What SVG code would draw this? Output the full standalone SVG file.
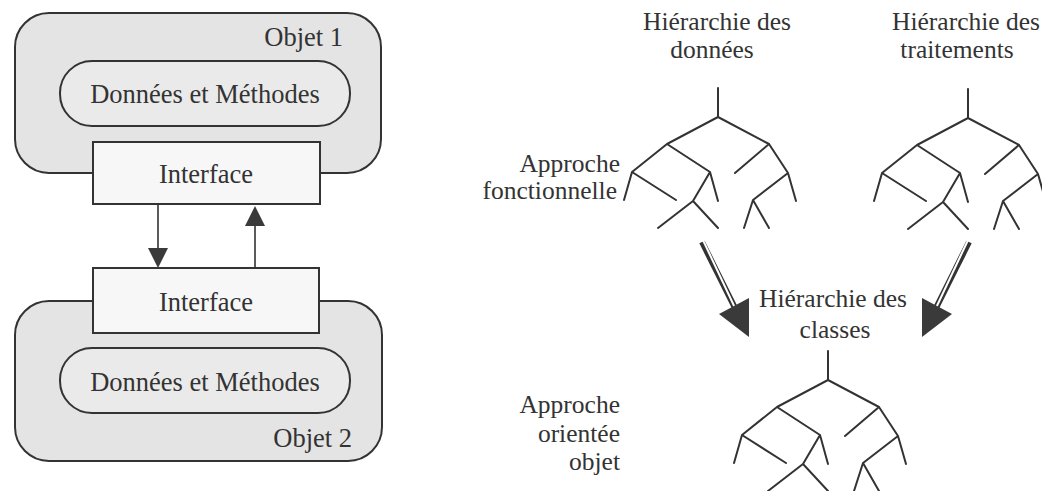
<svg xmlns="http://www.w3.org/2000/svg" xmlns:xlink="http://www.w3.org/1999/xlink" width="1042" height="491" viewBox="0 0 1042 491">
<style>
text{font-family:"Liberation Serif","Times New Roman",serif;font-size:25.5px;fill:#333}
.big{font-size:26.5px}
.outer{fill:#e4e4e4;stroke:#333;stroke-width:2}
.pill{fill:#eaeaea;stroke:#333;stroke-width:2}
.iface{fill:#f7f7f7;stroke:#333;stroke-width:2}
.tree{fill:none;stroke:#333;stroke-width:2;stroke-linecap:round;stroke-linejoin:round}
.wire{stroke:#333;stroke-width:1.6;fill:none}
.shaft{stroke:#333;stroke-width:6;fill:none}
.gap{stroke:#fff;stroke-width:2;fill:none}
.head{fill:#3a3a3a}
.m{text-anchor:middle}
.e{text-anchor:end}
</style>
<defs>
<path id="treeShape" class="tree" d="M0,-29 V0 M-94,83 L-86,55 L-51,27 L0,0 L51,27 L70,56 L78,84 M-86,55 L-42,83 M-51,27 L-8,55 L-25,84 L-60,111 M-25,84 L0,111 M-8,55 L0,84 M51,27 L17,56 M70,56 L35,83 L26,111 M35,83 L51,111"/>
</defs>
<rect width="1042" height="491" fill="#fff"/>

<g id="objet1">
<rect class="outer" x="15" y="13" width="366" height="160" rx="34"/>
<rect class="pill" x="60" y="61" width="290" height="65" rx="32"/>
<text class="m big" x="205" y="103">Données et Méthodes</text>
<text class="e big" x="343" y="46">Objet 1</text>
</g>
<g id="interface1">
<rect class="iface" x="93" y="142" width="227" height="62"/>
<text class="m big" x="206" y="183">Interface</text>
</g>

<g id="objet2">
<rect class="outer" x="15" y="301" width="367" height="160" rx="34"/>
<rect class="pill" x="60" y="348" width="290" height="65" rx="32"/>
<text class="m big" x="205" y="391">Données et Méthodes</text>
<text class="e big" x="352" y="447">Objet 2</text>
</g>
<g id="interface2">
<rect class="iface" x="93" y="268" width="226" height="65"/>
<text class="m big" x="206" y="311">Interface</text>
</g>

<g id="tree-donnees">
<text class="m" x="717" y="30">Hiérarchie des</text>
<text class="m" x="712" y="58">données</text>
<use xlink:href="#treeShape" x="718" y="117"/>
</g>
<g id="tree-traitements">
<text class="m" x="966" y="30">Hiérarchie des</text>
<text class="m" x="957" y="58">traitements</text>
<use xlink:href="#treeShape" x="968" y="118"/>
</g>
<g id="label-fonctionnelle">
<text class="e" x="620" y="172">Approche</text>
<text class="e" x="617" y="199">fonctionnelle</text>
</g>
<g id="tree-classes">
<text class="m" x="833" y="307">Hiérarchie des</text>
<text class="m" x="835" y="338">classes</text>
<use xlink:href="#treeShape" x="828" y="380"/>
</g>
<g id="label-objet">
<text class="e" x="620" y="413">Approche</text>
<text class="e" x="620" y="442">orientée</text>
<text class="e" x="620" y="470">objet</text>
</g>

<g id="connectors">
<line class="wire" x1="158" y1="204" x2="158" y2="250"/>
<polygon class="head" points="148,248 168,248 158,268"/>
<line class="wire" x1="255" y1="268" x2="255" y2="224"/>
<polygon class="head" points="245,226 265,226 255,206"/>
<line class="shaft" x1="702" y1="242" x2="736" y2="310"/>
<line class="gap" x1="702" y1="238" x2="736" y2="310"/>
<polygon class="head" points="719,314 749,298 749,337"/>
<line class="shaft" x1="969" y1="242" x2="935" y2="310"/>
<line class="gap" x1="969" y1="238" x2="935" y2="310"/>
<polygon class="head" points="952,314 922,298 922,337"/>
</g>
</svg>
